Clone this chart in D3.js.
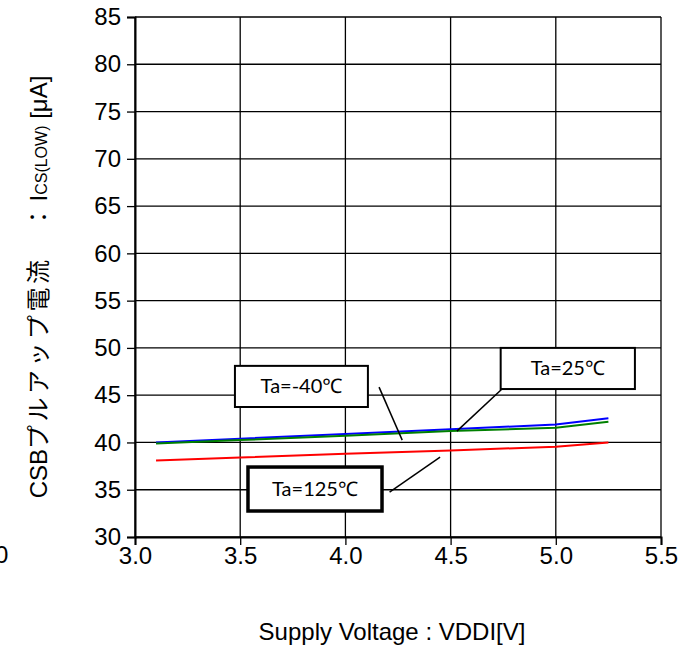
<!DOCTYPE html>
<meta charset="utf-8">
<style>
  body { margin: 0; background: #fff; }
  svg { display: block; }
  .tick text { font-family: "Liberation Sans", Arial, sans-serif; font-size: 24px; fill: #000; }
  .note { font-family: Lato, "Noto Sans", "Noto Sans CJK JP", sans-serif; font-size: 20px; fill: #000; }
</style>
<body>
<script src="https://d3js.org/d3.v7.min.js"></script>
<script>
// supply voltage [V]
var vdd = [3.1, 3.5, 4.0, 4.5, 5.0, 5.25];
// pull-up current [uA] per ambient temperature
var iM40 = [40.0, 40.4, 40.9, 41.4, 41.9, 42.55];
var i25 = [39.9, 40.25, 40.7, 41.2, 41.55, 42.2];
var i125 = [38.1, 38.4, 38.8, 39.15, 39.55, 40.0];
var seriesNames = ["Ta=-40℃", "Ta=25℃", "Ta=125℃"];
var seriesColors = ["#0000ff", "#008000", "#ff0000"];

var xTicks = [3.0, 3.5, 4.0, 4.5, 5.0, 5.5];
var yTicks = [30, 35, 40, 45, 50, 55, 60, 65, 70, 75, 80, 85];

// label boxes [x0, x1, yTop, yBottom] and leader lines [x1, y1, x2, y2], in data units
var noteBoxes = [[3.475, 4.107, 48.1, 43.75], [4.738, 5.376, 50.0, 45.65], [3.537, 4.174, 37.4, 32.75]];
var noteLeaders = [[4.16, 45.85, 4.27, 40.25], [4.78, 46.4, 4.53, 41.2], [4.21, 34.75, 4.45, 38.45]];

var W = 693, H = 646;
var margin = { top: 17, right: 32, bottom: 109, left: 135 };

var svg = d3.select("body").append("svg")
  .attr("width", W)
  .attr("height", H);

var x = d3.scaleLinear().domain([3, 5.5]).range([margin.left, W - margin.right]);
var y = d3.scaleLinear().domain([30, 85]).range([H - margin.bottom, margin.top]);

// grid
svg.append("g").selectAll("line").data(yTicks).join("line")
  .attr("x1", x(3)).attr("x2", x(5.5))
  .attr("y1", d => y(d)).attr("y2", d => y(d))
  .attr("stroke", "#000").attr("stroke-width", 1.3);
svg.append("g").selectAll("line").data(xTicks).join("line")
  .attr("y1", y(30)).attr("y2", y(85))
  .attr("x1", d => x(d)).attr("x2", d => x(d))
  .attr("stroke", "#000").attr("stroke-width", 1.3);

// axes
var xAxis = svg.append("g")
  .attr("transform", "translate(0," + y(30) + ")")
  .call(d3.axisBottom(x).tickValues(xTicks).tickFormat(d3.format(".1f")).tickSize(8).tickPadding(2));
var yAxis = svg.append("g")
  .attr("transform", "translate(" + x(3) + ",0)")
  .call(d3.axisLeft(y).tickValues(yTicks).tickSize(8).tickPadding(6));
[xAxis, yAxis].forEach(function (a) {
  a.select(".domain").attr("stroke", "#000").attr("stroke-width", 2);
  a.selectAll(".tick line").attr("stroke", "#000").attr("stroke-width", 1.3);
});

// stray label at the left edge
svg.append("text")
  .attr("x", -5).attr("y", y(30) + 26)
  .style("font-family", "'Liberation Sans', Arial, sans-serif")
  .style("font-size", "24px")
  .text("0");

// data lines
var line = d3.line().x((d, i) => x(vdd[i])).y(d => y(d));
[iM40, i25, i125].forEach(function (s, k) {
  svg.append("path")
    .datum(s)
    .attr("d", line)
    .attr("fill", "none")
    .attr("stroke", seriesColors[k])
    .attr("stroke-width", 2);
});

// leaders
svg.append("g").selectAll("line").data(noteLeaders).join("line")
  .attr("x1", d => x(d[0])).attr("y1", d => y(d[1]))
  .attr("x2", d => x(d[2])).attr("y2", d => y(d[3]))
  .attr("stroke", "#000").attr("stroke-width", 1.5);

// boxes
var boxWidths = [2, 2, 3.5];
noteBoxes.forEach(function (b, k) {
  svg.append("rect")
    .attr("x", x(b[0])).attr("y", y(b[2]))
    .attr("width", x(b[1]) - x(b[0]))
    .attr("height", y(b[3]) - y(b[2]))
    .attr("fill", "#fff")
    .attr("stroke", "#000")
    .attr("stroke-width", boxWidths[k]);
  svg.append("text")
    .attr("class", "note")
    .attr("x", (x(b[0]) + x(b[1])) / 2)
    .attr("y", (y(b[2]) + y(b[3])) / 2 + 7)
    .attr("text-anchor", "middle")
    .text(seriesNames[k]);
});

// axis titles
svg.append("text")
  .attr("x", (x(3) + x(5.5)) / 2 - 6)
  .attr("y", 640)
  .attr("text-anchor", "middle")
  .style("font-family", "'Liberation Sans', Arial, sans-serif")
  .style("font-size", "24px")
  .text("Supply Voltage : VDDI[V]");

var yt = svg.append("text")
  .attr("transform", "translate(47,287) rotate(-90)")
  .attr("text-anchor", "middle")
  .style("font-family", "'Liberation Sans', Arial, 'Noto Sans CJK JP', sans-serif")
  .style("font-size", "24px");
yt.append("tspan").text("CSB");
yt.append("tspan").style("letter-spacing", "3.5px").text("プルアップ電流　：");
yt.append("tspan").text("I");
yt.append("tspan").style("font-size", "16px").text("CS(LOW)");
yt.append("tspan").text(" [μA]");
</script>
</body>
